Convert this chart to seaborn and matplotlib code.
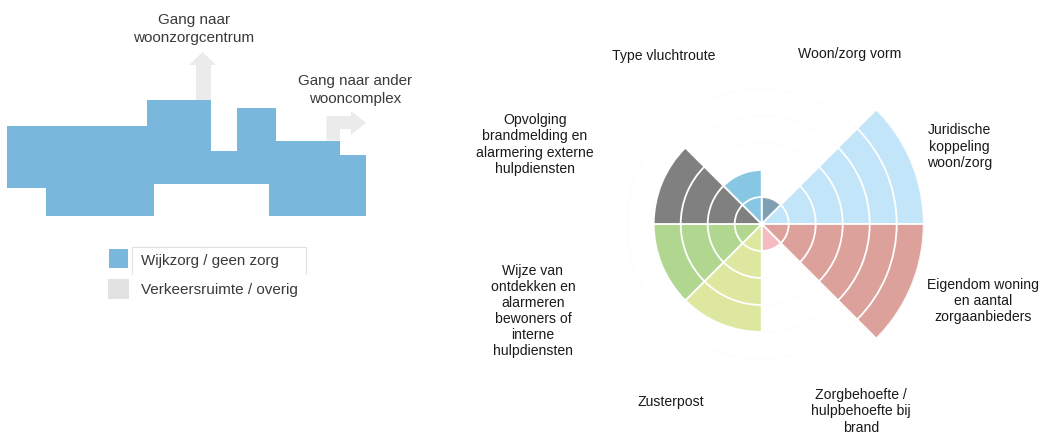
import numpy as np
import pandas as pd
import seaborn as sns
import matplotlib.pyplot as plt

# sectoren van de roos, met de klok mee vanaf boven
sectors = ['Woon/zorg vorm', 'Juridische koppeling', 'Eigendom woning', 'Zorgbehoefte',
           'Zusterpost', 'Wijze van ontdekken', 'Opvolging brandmelding', 'Type vluchtroute']
scores = [1, 6, 6, 1, 4, 4, 4, 2]
colors = ['#7f9fb3', '#c2e5f9', '#dda19c', '#f4bcc0', '#dde79f', '#b0d690', '#808080', '#87c7e4']
levels = [6, 5, 4, 3, 2, 1]

labels = ['Type vluchtroute', 'Woon/zorg vorm', 'Juridische\nkoppeling\nwoon/zorg',
          'Eigendom woning\nen aantal\nzorgaanbieders', 'Zorgbehoefte /\nhulpbehoefte bij\nbrand',
          'Zusterpost', 'Wijze van\nontdekken en\nalarmeren\nbewoners of\ninterne\nhulpdiensten',
          'Opvolging\nbrandmelding en\nalarmering externe\nhulpdiensten']
label_x = [664, 850, 959.5, 983, 861, 670.7, 533, 535]
label_y = [55.7, 54.3, 146.5, 301, 411.5, 401.7, 311, 144.5]

# plattegrond links (in pixels)
plan_x = [7, 147, 147, 211, 211, 236.5, 236.5, 275.5, 275.5, 340, 340, 365.5, 365.5, 268.5, 268.5, 154, 154, 45.5, 45.5, 7]
plan_y = [126, 126, 100, 100, 151, 151, 108, 108, 140.5, 140.5, 155, 155, 216, 216, 184, 184, 216, 216, 188, 188]
arrow_up_x = [196, 196, 189, 202.5, 216, 211, 211]
arrow_up_y = [100, 65, 65, 52, 65, 65, 100]
arrow_right_x = [326.5, 326.5, 351, 351, 366, 351, 351, 340, 340]
arrow_right_y = [140.5, 116, 116, 111, 123, 135, 129, 129, 140.5]
legend_names = ['Wijkzorg / geen zorg', 'Verkeersruimte / overig']
legend_colors = ['#79b8dc', '#e2e2e2']

sns.set_style('white')
plt.rcParams['font.family'] = ['Liberation Sans', 'DejaVu Sans']

W, H = 1041, 434
fig = plt.figure(figsize=(W / 100, H / 100), dpi=100)

# roos
cx, cy, rmax = 761.7, 224, 162
ax = fig.add_axes([(cx - rmax) / W, (H - cy - rmax) / H, 2 * rmax / W, 2 * rmax / H], projection='polar')
ax.set_theta_zero_location('N')
ax.set_theta_direction(-1)

df = pd.DataFrame({'sector': sectors, 'score': scores})
df['theta'] = np.deg2rad(22.5 + 45 * df.index)
palette = dict(zip(sectors, colors))

for lv in levels:
    # buitenste ring eerst, binnenste er overheen
    sub = df[df['score'] >= lv].assign(level=lv)
    sns.barplot(data=sub, x='theta', y='level', hue='sector', palette=palette, native_scale=True,
                dodge=False, width=1, saturation=1, edgecolor='white', linewidth=1.3,
                errorbar=None, legend=False, ax=ax)

ax.set_xlim(0, 2 * np.pi)
ax.set_ylim(0, 6)
ax.set_xlabel('')
ax.set_ylabel('')
ax.set_xticks([])
ax.set_yticks(levels)
ax.set_yticklabels([])
ax.grid(True, color='#fcfcfc', linewidth=0.8)
ax.set_axisbelow(True)
ax.spines['polar'].set_visible(False)
ax.patch.set_alpha(0)

# overlay in pixels voor plattegrond en teksten
ov = fig.add_axes([0, 0, 1, 1], zorder=5)
ov.set_xlim(0, W)
ov.set_ylim(H, 0)
ov.axis('off')

ov.fill(arrow_up_x, arrow_up_y, color='#ebebeb', lw=0)
ov.fill(arrow_right_x, arrow_right_y, color='#ebebeb', lw=0)
ov.fill(plan_x, plan_y, color=legend_colors[0], lw=0)

ov.add_patch(plt.Rectangle((109, 249), 19, 19, color=legend_colors[0], lw=0))
ov.add_patch(plt.Rectangle((108, 279), 21, 20, color=legend_colors[1], lw=0))
ov.plot([131.5, 131.5, 305.5, 305.5], [274, 246.5, 246.5, 274], color='#e0e0e0', lw=0.8)
ov.text(141, 261, legend_names[0], fontsize=10.9, color='#3a3a3a', va='center')
ov.text(141, 290, legend_names[1], fontsize=11, color='#3a3a3a', va='center')

ov.text(194, 29, 'Gang naar\nwoonzorgcentrum', fontsize=11, color='#3a3a3a', ha='center', va='center', linespacing=1.36)
ov.text(355, 90, 'Gang naar ander\nwooncomplex', fontsize=10.9, color='#3a3a3a', ha='center', va='center', linespacing=1.36)

for txt, x, y in zip(labels, label_x, label_y):
    ov.text(x, y, txt, fontsize=10.1, color='#1a1a1a', ha='center', va='center', linespacing=1.2)

fig.savefig('out.png', dpi=100)
